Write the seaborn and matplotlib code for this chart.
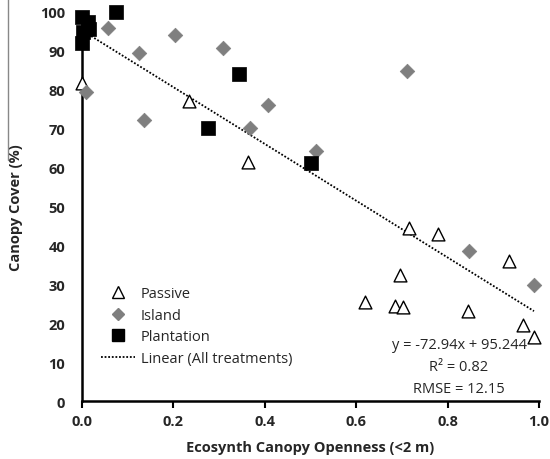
import numpy as np
import pandas as pd
import seaborn as sns
import matplotlib.pyplot as plt
from matplotlib.lines import Line2D

# values
passive_x = [0.0, 0.234, 0.363, 0.619, 0.696, 0.685, 0.702, 0.716, 0.779, 0.845, 0.934, 0.965, 0.989]
passive_y = [81.7, 77.0, 61.5, 25.4, 32.4, 24.4, 24.2, 44.5, 43.0, 23.1, 36.0, 19.5, 16.4]

island_x = [0.009, 0.057, 0.125, 0.136, 0.203, 0.308, 0.368, 0.407, 0.512, 0.711, 0.847, 0.989]
island_y = [79.4, 95.9, 89.4, 72.2, 94.1, 90.7, 70.2, 76.1, 64.2, 84.8, 38.5, 29.8]

plant_x = [0.0, 0.013, 0.015, 0.002, 0.0, 0.074, 0.276, 0.344, 0.501]
plant_y = [98.7, 97.4, 95.6, 94.9, 92.0, 99.9, 70.2, 84.1, 61.2]

slope = -72.94
intercept = 95.244
fit_text = ['y = -72.94x + 95.244', 'R² = 0.82', 'RMSE = 12.15']

df = pd.concat([
    pd.DataFrame({'x': passive_x, 'y': passive_y, 'trt': 'Passive'}),
    pd.DataFrame({'x': island_x, 'y': island_y, 'trt': 'Island'}),
    pd.DataFrame({'x': plant_x, 'y': plant_y, 'trt': 'Plantation'}),
])

sns.set_style('ticks')
plt.rcParams['font.family'] = ['Open Sans', 'DejaVu Sans']

fig = plt.figure(figsize=(5.5, 4.6), dpi=100)
ax = fig.add_axes([0.149, 0.126, 0.831, 0.846])

gray = '#7f7f7f'
sns.scatterplot(data=df[df.trt == 'Passive'], x='x', y='y', marker='^', s=85,
                facecolor='white', edgecolor='black', linewidth=1.0, ax=ax, clip_on=False, zorder=3)
sns.scatterplot(data=df[df.trt == 'Island'], x='x', y='y', marker='D', s=55,
                color=gray, edgecolor=gray, linewidth=0.5, ax=ax, clip_on=False, zorder=3)
sns.scatterplot(data=df[df.trt == 'Plantation'], x='x', y='y', marker='s', s=90,
                color='black', edgecolor='black', linewidth=0.5, ax=ax, clip_on=False, zorder=4)

xs = np.array([df.x.min(), df.x.max()])
ax.plot(xs, slope * xs + intercept, color='black', linestyle=(0, (1, 1)), linewidth=1.3, zorder=2)

ax.set_xlim(0, 1.0)
ax.set_ylim(0, 100)
ax.set_xticks(np.arange(0, 1.01, 0.2))
ax.set_xticklabels(['%.1f' % v for v in np.arange(0, 1.01, 0.2)])
ax.set_yticks(np.arange(0, 101, 10))
ax.tick_params(axis='x', length=5, width=1.5, direction='out', labelsize=10.5, pad=4, color='black')
ax.tick_params(axis='y', length=0, labelsize=10.5, pad=12)
for lab in ax.get_xticklabels() + ax.get_yticklabels():
    lab.set_fontweight('bold')

sns.despine(ax=ax)
for sp in ['left', 'bottom']:
    ax.spines[sp].set_linewidth(1.8)
    ax.spines[sp].set_color('black')

ax.set_xlabel('Ecosynth Canopy Openness (<2 m)', fontsize=10.5, fontweight='bold', labelpad=9)
ax.set_ylabel('Canopy Cover (%)', fontsize=10.5, fontweight='bold', labelpad=12)

handles = [
    Line2D([], [], marker='^', linestyle='none', markersize=9, markerfacecolor='white',
           markeredgecolor='black', markeredgewidth=1.0),
    Line2D([], [], marker='D', linestyle='none', markersize=6, color=gray),
    Line2D([], [], marker='s', linestyle='none', markersize=8, color='black'),
    Line2D([], [], color='black', linestyle=(0, (1, 1)), linewidth=1.3),
]
ax.legend(handles, ['Passive', 'Island', 'Plantation', 'Linear (All treatments)'],
          loc='upper left', bbox_to_anchor=(0.03, 0.31), frameon=False, fontsize=10.5,
          handlelength=2.3, handletextpad=0.4, labelspacing=0.45, borderaxespad=0)

for i, t in enumerate(fit_text):
    ax.text(0.825, 0.145 - i * 0.056, t, transform=ax.transAxes, ha='center', va='center', fontsize=10.5)

# thin gray rule at the far left edge, as in the reference crop
fig.add_artist(Line2D([0.015, 0.015], [1.0, 0.65], transform=fig.transFigure, color='#888888', linewidth=1))

fig.savefig('out.png', dpi=100)
